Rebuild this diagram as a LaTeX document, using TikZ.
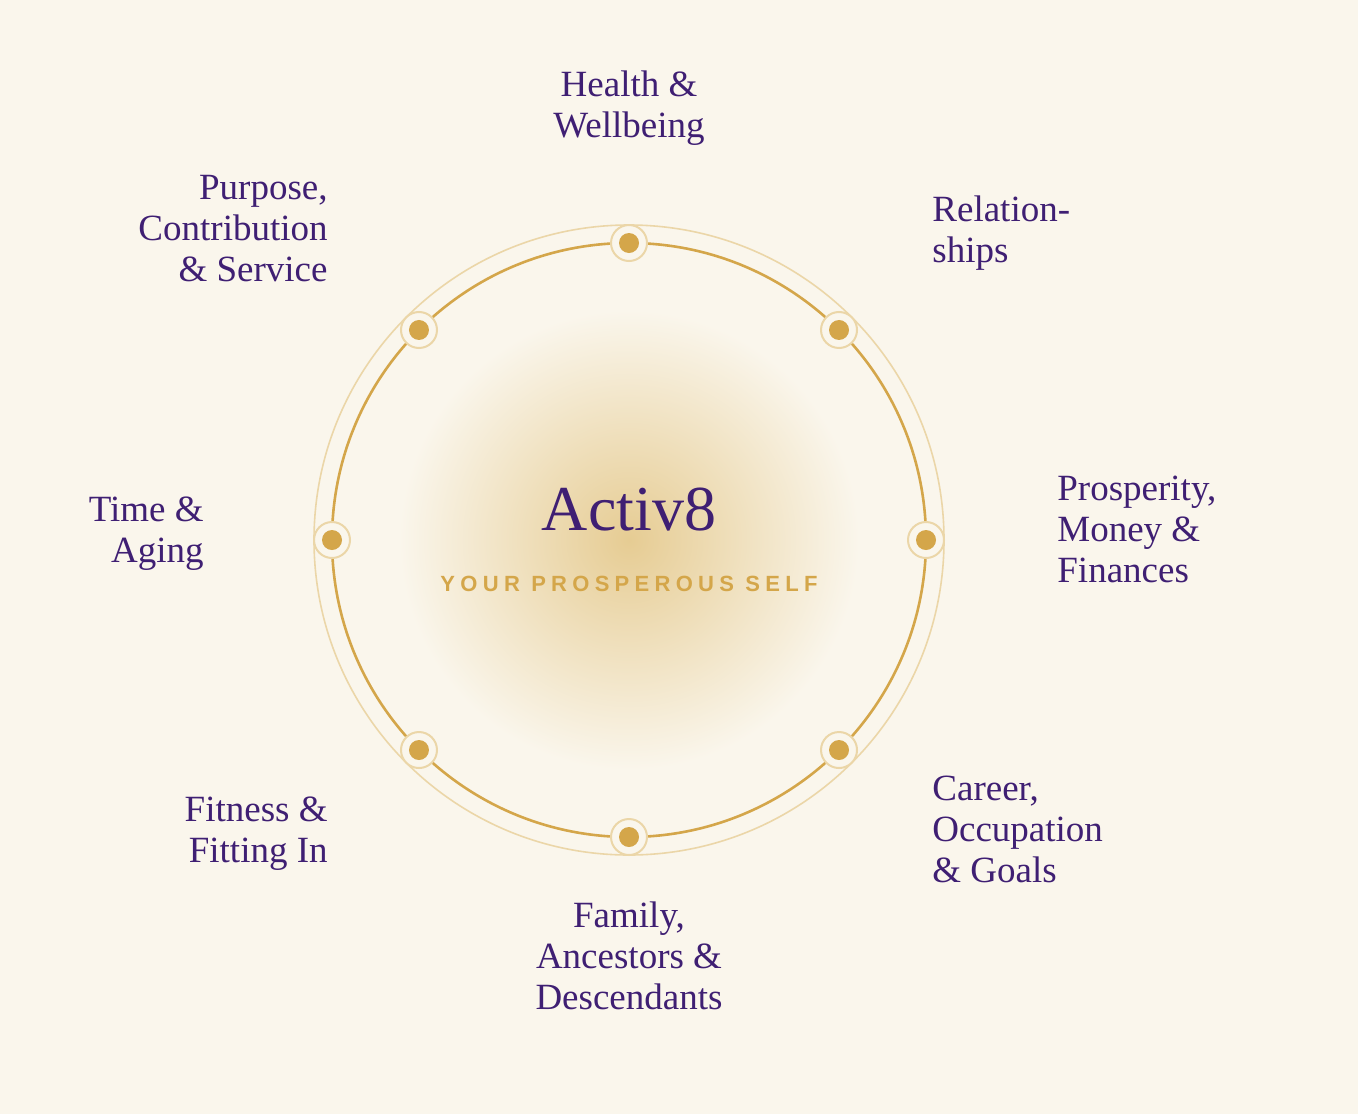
\documentclass[tikz,border=0pt]{standalone}
\usetikzlibrary{calc}
\usepackage{fontspec}
\setmainfont{Liberation Serif}
\newfontfamily\subfont[LetterSpace=24]{Liberation Sans}
\begin{document}
\definecolor{bg}{HTML}{FAF6EC}
\definecolor{gold}{HTML}{D4A64A}
\definecolor{pale}{HTML}{EBD6A8}
\definecolor{purp}{HTML}{3F1F73}
\definecolor{glow}{HTML}{E6CC93}
\begin{tikzpicture}[x=0.5pt,y=-0.5pt,
  lab/.style={text=purp,font=\fontsize{18.5}{20.5}\selectfont,inner sep=0pt},
  dot/.style={circle,fill=gold,minimum size=10pt,inner sep=0pt},
  ring/.style={circle,draw=pale,line width=1pt,fill=bg,minimum size=18pt,inner sep=0pt}]
\fill[bg] (0,0) rectangle (1358,1114);
\useasboundingbox (0,0) rectangle (1358,1114);
\shade[inner color=glow,outer color=bg] (629,540) circle (230);
\draw[pale,line width=0.8pt] (629,540) circle (315);
\draw[gold,line width=1.3pt] (629,540) circle (297);
\foreach \a [count=\i] in {90,45,0,-45,-90,-135,180,135}{
  \node[ring] (r\i) at ($(629,540)+(\a:297)$) {};
  \node[dot] (d\i) at (r\i) {};
}
\node[text=purp,font=\fontsize{32}{32}\selectfont] (t) at (629,510) {Activ8};
\node[text=gold,font=\subfont\bfseries\fontsize{11}{11}\selectfont] (s) at (629,584) {YOUR PROSPEROUS SELF};
\node[lab,align=center,anchor=north] (l1) at (629,70) {Health \&\\Wellbeing};
\node[lab,align=left,anchor=north west] (l2) at (932,195) {Relation-\\ships};
\node[lab,align=left,anchor=north west] (l3) at (1057,476) {Prosperity,\\Money \&\\Finances};
\node[lab,align=left,anchor=north west] (l4) at (932,776) {Career,\\Occupation\\\& Goals};
\node[lab,align=center,anchor=north] (l5) at (629,901) {Family,\\Ancestors \&\\Descendants};
\node[lab,align=right,anchor=north east] (l6) at (328,796) {Fitness \&\\Fitting In};
\node[lab,align=right,anchor=north east] (l7) at (204,496) {Time \&\\Aging};
\node[lab,align=right,anchor=north east] (l8) at (328,175) {Purpose,\\Contribution\\\& Service};
\end{tikzpicture}
\end{document}
